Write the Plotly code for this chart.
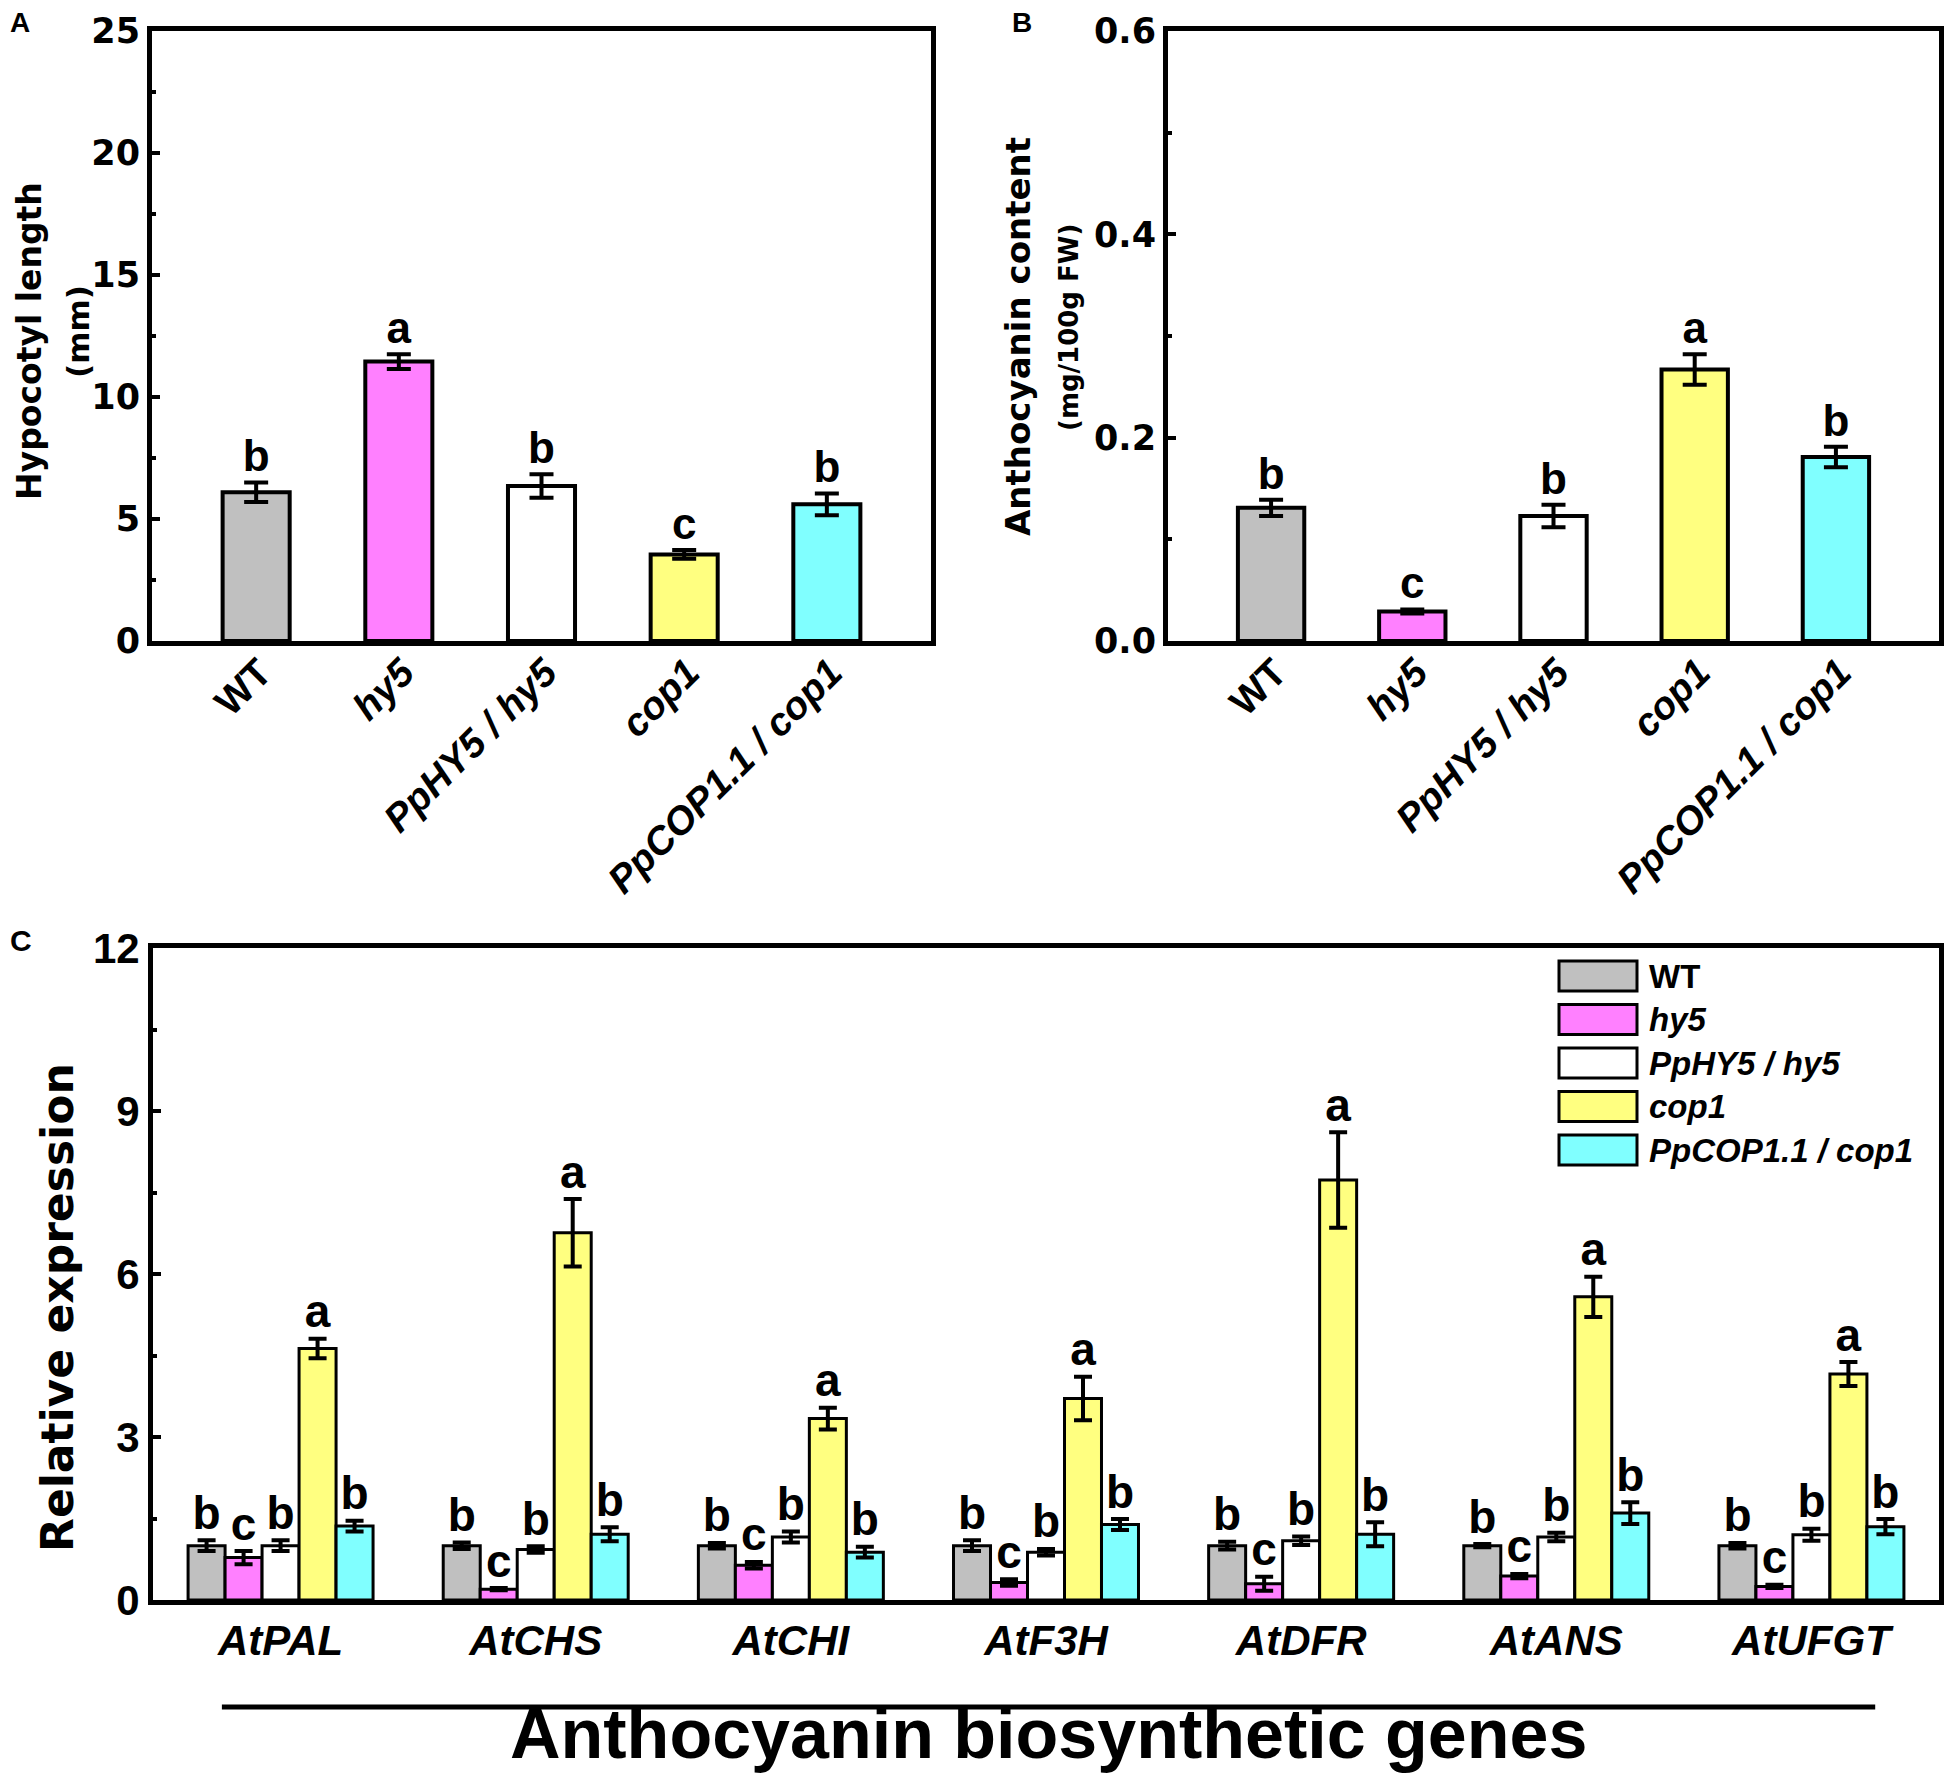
import plotly.graph_objects as go

# page is 1952 x 1782; the html body keeps its default 8 px margin,
# so the figure is made 16 px smaller and positions are given in page pixels
PAGE_W, PAGE_H = 1952, 1782
PAGE_OFFSET = 8
W, H = PAGE_W - 2 * PAGE_OFFSET, PAGE_H - 2 * PAGE_OFFSET

# ---- panels A and B: genotypes ----
genotypes = ["WT", "hy5", "PpHY5 / hy5", "cop1", "PpCOP1.1 / cop1"]
genotype_ticks = ["<b>WT</b>", "<b><i>hy5</i></b>", "<b><i>PpHY5 / hy5</i></b>",
                  "<b><i>cop1</i></b>", "<b><i>PpCOP1.1 / cop1</i></b>"]
bar_colors = ["#C0C0C0", "#FF80FF", "#FFFFFF", "#FFFF80", "#80FFFF"]

hypocotyl = [6.1, 11.45, 6.35, 3.55, 5.6]
hypocotyl_err = [0.4, 0.3, 0.48, 0.18, 0.45]
hypocotyl_letters = ["b", "a", "b", "c", "b"]

anthocyanin = [0.131, 0.029, 0.123, 0.267, 0.181]
anthocyanin_err = [0.008, 0.002, 0.011, 0.015, 0.010]
anthocyanin_letters = ["b", "c", "b", "a", "b"]

# ---- panel C: relative expression ----
genes = ["AtPAL", "AtCHS", "AtCHI", "AtF3H", "AtDFR", "AtANS", "AtUFGT"]
expr_wt = [1.0, 1.0, 1.0, 1.0, 1.0, 1.0, 1.0]
expr_wt_err = [0.1, 0.06, 0.05, 0.1, 0.07, 0.03, 0.05]
expr_hy5 = [0.78, 0.2, 0.64, 0.32, 0.3, 0.44, 0.25]
expr_hy5_err = [0.12, 0.02, 0.06, 0.06, 0.13, 0.04, 0.03]
expr_pphy5 = [1.0, 0.93, 1.16, 0.88, 1.09, 1.16, 1.2]
expr_pphy5_err = [0.1, 0.06, 0.1, 0.06, 0.08, 0.08, 0.11]
expr_cop1 = [4.63, 6.76, 3.34, 3.71, 7.73, 5.58, 4.16]
expr_cop1_err = [0.18, 0.62, 0.2, 0.4, 0.88, 0.37, 0.22]
expr_ppcop = [1.36, 1.21, 0.88, 1.39, 1.21, 1.6, 1.35]
expr_ppcop_err = [0.1, 0.13, 0.1, 0.1, 0.22, 0.2, 0.14]
letters_wt = ["b", "b", "b", "b", "b", "b", "b"]
letters_hy5 = ["c", "c", "c", "c", "c", "c", "c"]
letters_pphy5 = ["b", "b", "b", "b", "b", "b", "b"]
letters_cop1 = ["a", "a", "a", "a", "a", "a", "a"]
letters_ppcop = ["b", "b", "b", "b", "b", "b", "b"]

expr_series = [
    (expr_wt, expr_wt_err, letters_wt),
    (expr_hy5, expr_hy5_err, letters_hy5),
    (expr_pphy5, expr_pphy5_err, letters_pphy5),
    (expr_cop1, expr_cop1_err, letters_cop1),
    (expr_ppcop, expr_ppcop_err, letters_ppcop),
]

FONT = "Liberation Sans"
WIDE_FONT = "DejaVu Sans"


# page pixel -> paper coordinate
def px_x(x):
    return (x - PAGE_OFFSET) / W


def px_y(y):
    return 1 - (y - PAGE_OFFSET) / H


fig = go.Figure()

# Panels A and B
for vals, errs, letters, xa, ya in [
    (hypocotyl, hypocotyl_err, hypocotyl_letters, "x", "y"),
    (anthocyanin, anthocyanin_err, anthocyanin_letters, "x2", "y2"),
]:
    pos = list(range(len(genotypes)))
    fig.add_trace(go.Bar(
        x=pos, y=vals, width=0.47,
        marker=dict(color=bar_colors, line=dict(color="black", width=4)),
        error_y=dict(type="data", array=errs, color="black", thickness=4, width=12),
        xaxis=xa, yaxis=ya, showlegend=False,
    ))
    fig.add_trace(go.Scatter(
        x=pos, y=[v + e for v, e in zip(vals, errs)],
        mode="text", text=letters, textposition="top center",
        textfont=dict(family=FONT, size=44, color="black", weight="bold"),
        xaxis=xa, yaxis=ya, showlegend=False,
    ))

# Panel C: five bars per gene
step = 0.145
for j, (vals, errs, letters) in enumerate(expr_series):
    pos = [g + (j - 2) * step for g in range(len(genes))]
    fig.add_trace(go.Bar(
        x=pos, y=vals, width=step, name=genotypes[j],
        marker=dict(color=bar_colors[j], line=dict(color="black", width=3)),
        error_y=dict(type="data", array=errs, color="black", thickness=4, width=9),
        xaxis="x3", yaxis="y3", showlegend=False,
    ))
    fig.add_trace(go.Scatter(
        x=pos, y=[v + e for v, e in zip(vals, errs)],
        mode="text", text=letters, textposition="top center",
        textfont=dict(family=FONT, size=46, color="black", weight="bold"),
        xaxis="x3", yaxis="y3", showlegend=False,
    ))

axis_common = dict(showline=True, mirror=True, linewidth=5, linecolor="black",
                   showgrid=False, zeroline=False, automargin=False,
                   ticklabeloverflow="allow")
tick_font = dict(family=WIDE_FONT, size=35, color="black", weight="bold")
x_geno = dict(range=[-0.73, 4.73], tickvals=list(range(len(genotypes))),
              ticktext=genotype_ticks, tickangle=-45, ticks="",
              ticklabelstandoff=-12, ticklabelshift=4,
              tickfont=dict(family=FONT, size=39, color="black"))

fig.update_layout(
    width=W, height=H,
    margin=dict(l=0, r=0, t=0, b=0),
    paper_bgcolor="white", plot_bgcolor="white",
    barmode="overlay",
    xaxis=dict(domain=[px_x(152), px_x(931)], anchor="y", **x_geno, **axis_common),
    yaxis=dict(domain=[px_y(641), px_y(31)], range=[0, 25], anchor="x",
               dtick=5, ticks="inside", ticklen=8, tickwidth=4, tickcolor="black",
               minor=dict(ticks="inside", dtick=2.5, ticklen=4, tickwidth=4, tickcolor="black"),
               tickfont=tick_font, **axis_common),
    xaxis2=dict(domain=[px_x(1168), px_x(1939)], anchor="y2", **x_geno, **axis_common),
    yaxis2=dict(domain=[px_y(641), px_y(31)], range=[0, 0.6], anchor="x2",
                dtick=0.2, tickformat=".1f", ticks="inside", ticklen=8, tickwidth=4,
                tickcolor="black",
                minor=dict(ticks="inside", dtick=0.1, ticklen=4, tickwidth=4, tickcolor="black"),
                tickfont=tick_font, **axis_common),
    xaxis3=dict(domain=[px_x(153), px_x(1939)], range=[-0.5, 6.5], anchor="y3",
                tickvals=list(range(len(genes))),
                ticktext=["<b><i>%s</i></b>" % g for g in genes],
                tickangle=0, ticks="", ticklabelstandoff=0,
                tickfont=dict(family=FONT, size=42, color="black"), **axis_common),
    yaxis3=dict(domain=[px_y(1600), px_y(948)], range=[0, 12], anchor="x3",
                dtick=3, ticks="inside", ticklen=8, tickwidth=4, tickcolor="black",
                minor=dict(ticks="inside", dtick=1.5, ticklen=4, tickwidth=4, tickcolor="black"),
                tickfont=dict(family=FONT, size=42, color="black", weight="bold"),
                **axis_common),
)

annotations = []


def add_text(text, x, y, size, family=FONT, angle=0, xanchor="center", yanchor="middle"):
    annotations.append(dict(text=text, x=px_x(x), y=px_y(y), xref="paper", yref="paper",
                            showarrow=False, textangle=angle, xanchor=xanchor,
                            yanchor=yanchor,
                            font=dict(family=family, size=size, color="black")))


# panel letters
add_text("<b>A</b>", 8, 23, 28, xanchor="left")
add_text("<b>B</b>", 1010, 23, 28, xanchor="left")
add_text("<b>C</b>", 8, 940, 30, xanchor="left")

# axis titles
add_text("<b>Hypocotyl length</b>", 29, 341, 33, WIDE_FONT, -90)
add_text("<b>(mm)</b>", 78, 332, 31, WIDE_FONT, -90)
add_text("<b>Anthocyanin content</b>", 1018, 337, 34, WIDE_FONT, -90)
add_text("<b>(mg/100g FW)</b>", 1069, 328, 26, WIDE_FONT, -90)
add_text("<b>Relative expression</b>", 57, 1308, 44, WIDE_FONT, -90)
add_text("<b>Anthocyanin biosynthetic genes</b>", 1048, 1734, 70)

# legend for panel C
shapes = []
for j, name in enumerate(genotypes):
    cy = 976 + j * 43.5
    shapes.append(dict(type="rect", xref="paper", yref="paper",
                       x0=px_x(1559), x1=px_x(1637), y0=px_y(cy + 15), y1=px_y(cy - 15),
                       fillcolor=bar_colors[j], line=dict(color="black", width=3)))
    label = "<b>%s</b>" % name if j == 0 else "<b><i>%s</i></b>" % name
    add_text(label, 1647, cy, 33, xanchor="left")

# line under the gene names
shapes.append(dict(type="line", xref="x3", yref="paper", x0=-0.23, x1=6.25,
                   y0=px_y(1707), y1=px_y(1707), line=dict(color="black", width=5)))

fig.update_layout(annotations=annotations, shapes=shapes)

fig.write_html("out.html")
